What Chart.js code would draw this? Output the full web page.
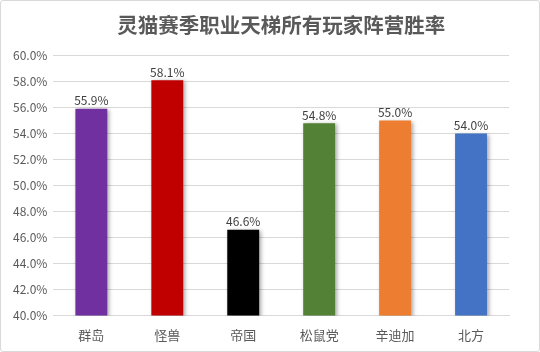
<!DOCTYPE html>
<html>
<head>
<meta charset="utf-8">
<script src="https://cdn.jsdelivr.net/npm/chart.js@4.4.1/dist/chart.umd.min.js"></script>
<style>
  html, body { margin: 0; padding: 0; background: #fff; }
  #box { position: absolute; left: 0; top: 0; width: 538px; height: 350px; border: 1px solid #d9d9d9; border-radius: 3px; }
  canvas { display: block; }
</style>
</head>
<body>
<div id="box"><canvas id="c" width="538" height="350"></canvas></div>
<script>
// 阵营 + 胜率
const factions = ["群岛", "怪兽", "帝国", "松鼠党", "辛迪加", "北方"];
const winRates = [55.9, 58.1, 46.6, 54.8, 55.0, 54.0];
const barColors = ["#7030a0", "#c00000", "#000000", "#538135", "#ed7d31", "#4472c4"];
const yMin = 40, yMax = 60, yStep = 2;
const chartTitle = '灵猫赛季职业天梯所有玩家阵营胜率';

const FONT = "'Noto Sans CJK SC', 'Noto Sans', sans-serif";

// 柱子阴影
const shadowPlugin = {
  id: 'barShadow',
  beforeDatasetsDraw(chart) {
    const ctx = chart.ctx;
    ctx.save();
    ctx.shadowColor = 'rgba(0,0,0,0.35)';
    ctx.shadowBlur = 4;
    ctx.shadowOffsetX = 2;
    ctx.shadowOffsetY = 1;
  },
  afterDatasetsDraw(chart) {
    chart.ctx.restore();
  }
};

// 数值标签 + 标题（标题居中于绘图区）
const labelPlugin = {
  id: 'valueLabels',
  afterDatasetsDraw(chart) {
    const ctx = chart.ctx;
    const meta = chart.getDatasetMeta(0);
    ctx.save();
    ctx.font = "12px " + FONT;
    ctx.fillStyle = '#404040';
    ctx.textAlign = 'center';
    ctx.textBaseline = 'bottom';
    meta.data.forEach((bar, i) => {
      ctx.fillText(winRates[i].toFixed(1) + '%', bar.x, bar.y - 2);
    });
    const a = chart.chartArea;
    ctx.font = "bold 20.5px " + FONT;
    ctx.fillStyle = '#595959';
    ctx.textBaseline = 'middle';
    ctx.fillText(chartTitle, (a.left + a.right) / 2, 24);
    ctx.restore();
  }
};

new Chart(document.getElementById('c'), {
  type: 'bar',
  data: {
    labels: factions,
    datasets: [{
      data: winRates,
      backgroundColor: barColors,
      borderWidth: 0,
      categoryPercentage: 1,
      barPercentage: 0.42
    }]
  },
  options: {
    responsive: false,
    animation: false,
    layout: { padding: { left: 6, right: 30, top: 4, bottom: 4 } },
    plugins: {
      legend: { display: false },
      tooltip: { enabled: false },
      title: {
        // 只占位，文字由插件画
        display: true,
        text: chartTitle,
        color: 'rgba(0,0,0,0)',
        font: { family: FONT, size: 20.5, weight: 'bold' },
        padding: { top: 6, bottom: 20 }
      }
    },
    scales: {
      x: {
        grid: { display: false },
        border: { color: '#d9d9d9' },
        ticks: { color: '#595959', font: { family: FONT, size: 13 }, padding: 4 }
      },
      y: {
        min: yMin, max: yMax,
        ticks: {
          stepSize: yStep,
          color: '#595959',
          font: { family: FONT, size: 12 },
          padding: 6,
          callback: v => v.toFixed(1) + '%'
        },
        grid: { color: '#d9d9d9', drawTicks: false },
        border: { display: false }
      }
    }
  },
  plugins: [shadowPlugin, labelPlugin]
});
</script>
</body>
</html>
